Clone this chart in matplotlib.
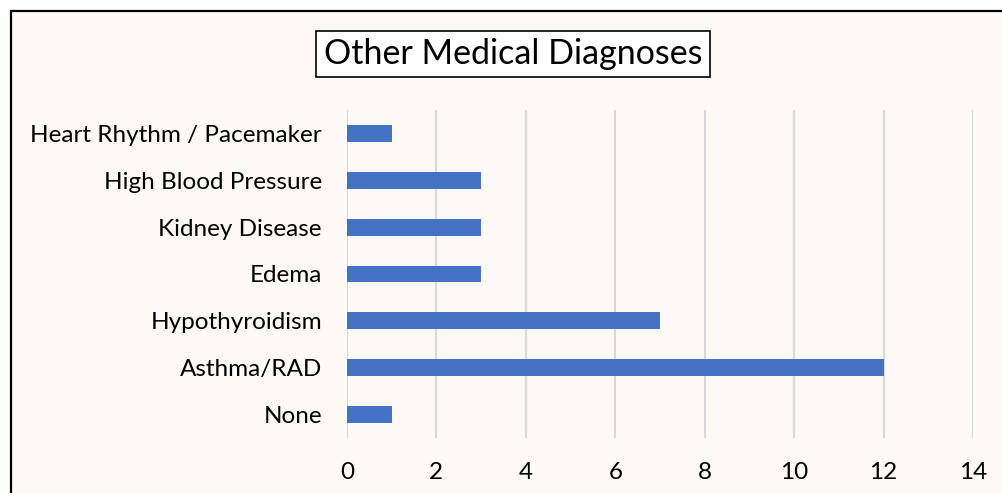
import matplotlib.pyplot as plt
from matplotlib.patches import Rectangle

categories = ['None', 'Asthma/RAD', 'Hypothyroidism', 'Edema', 'Kidney Disease',
              'High Blood Pressure', 'Heart Rhythm / Pacemaker']
counts = [1, 12, 7, 3, 3, 3, 1]

plt.rcParams['font.family'] = ['Lato', 'DejaVu Sans']

fig = plt.figure(figsize=(10.02, 4.93), dpi=100)
fig.patch.set_facecolor('white')
bg = Rectangle((11 / 1002, -0.1), 1.2, 1.1 - 11 / 493, transform=fig.transFigure,
               facecolor='#FDF9F6', edgecolor='black', linewidth=1.6, zorder=-10)
fig.patches.append(bg)

ax = fig.add_axes([347 / 1002, 1 - 438 / 493, 626 / 1002, 328 / 493])
ax.set_facecolor('none')
ax.barh(range(len(categories)), counts, height=0.36, color='#4472C4', zorder=3)
ax.set_xlim(0, 14)
ax.set_ylim(-0.5, len(categories) - 0.5)
ax.set_xticks(range(0, 15, 2))
ax.set_yticks(range(len(categories)))
ax.set_yticklabels(categories)
ax.tick_params(axis='both', length=0, labelsize=17.5, colors='black')
ax.tick_params(axis='x', pad=17)
ax.tick_params(axis='y', pad=18)
ax.grid(axis='x', color='#D9D9D9', linewidth=1.5, zorder=0)
for s in ax.spines.values():
    s.set_visible(False)

fig.text(513 / 1002, 1 - 54 / 493, 'Other Medical Diagnoses', ha='center', va='center',
         fontsize=24.5, color='black',
         bbox=dict(boxstyle='square,pad=0.22', facecolor='white', edgecolor='black', linewidth=1.2))

fig.savefig('out.png', dpi=100, facecolor=fig.get_facecolor())
